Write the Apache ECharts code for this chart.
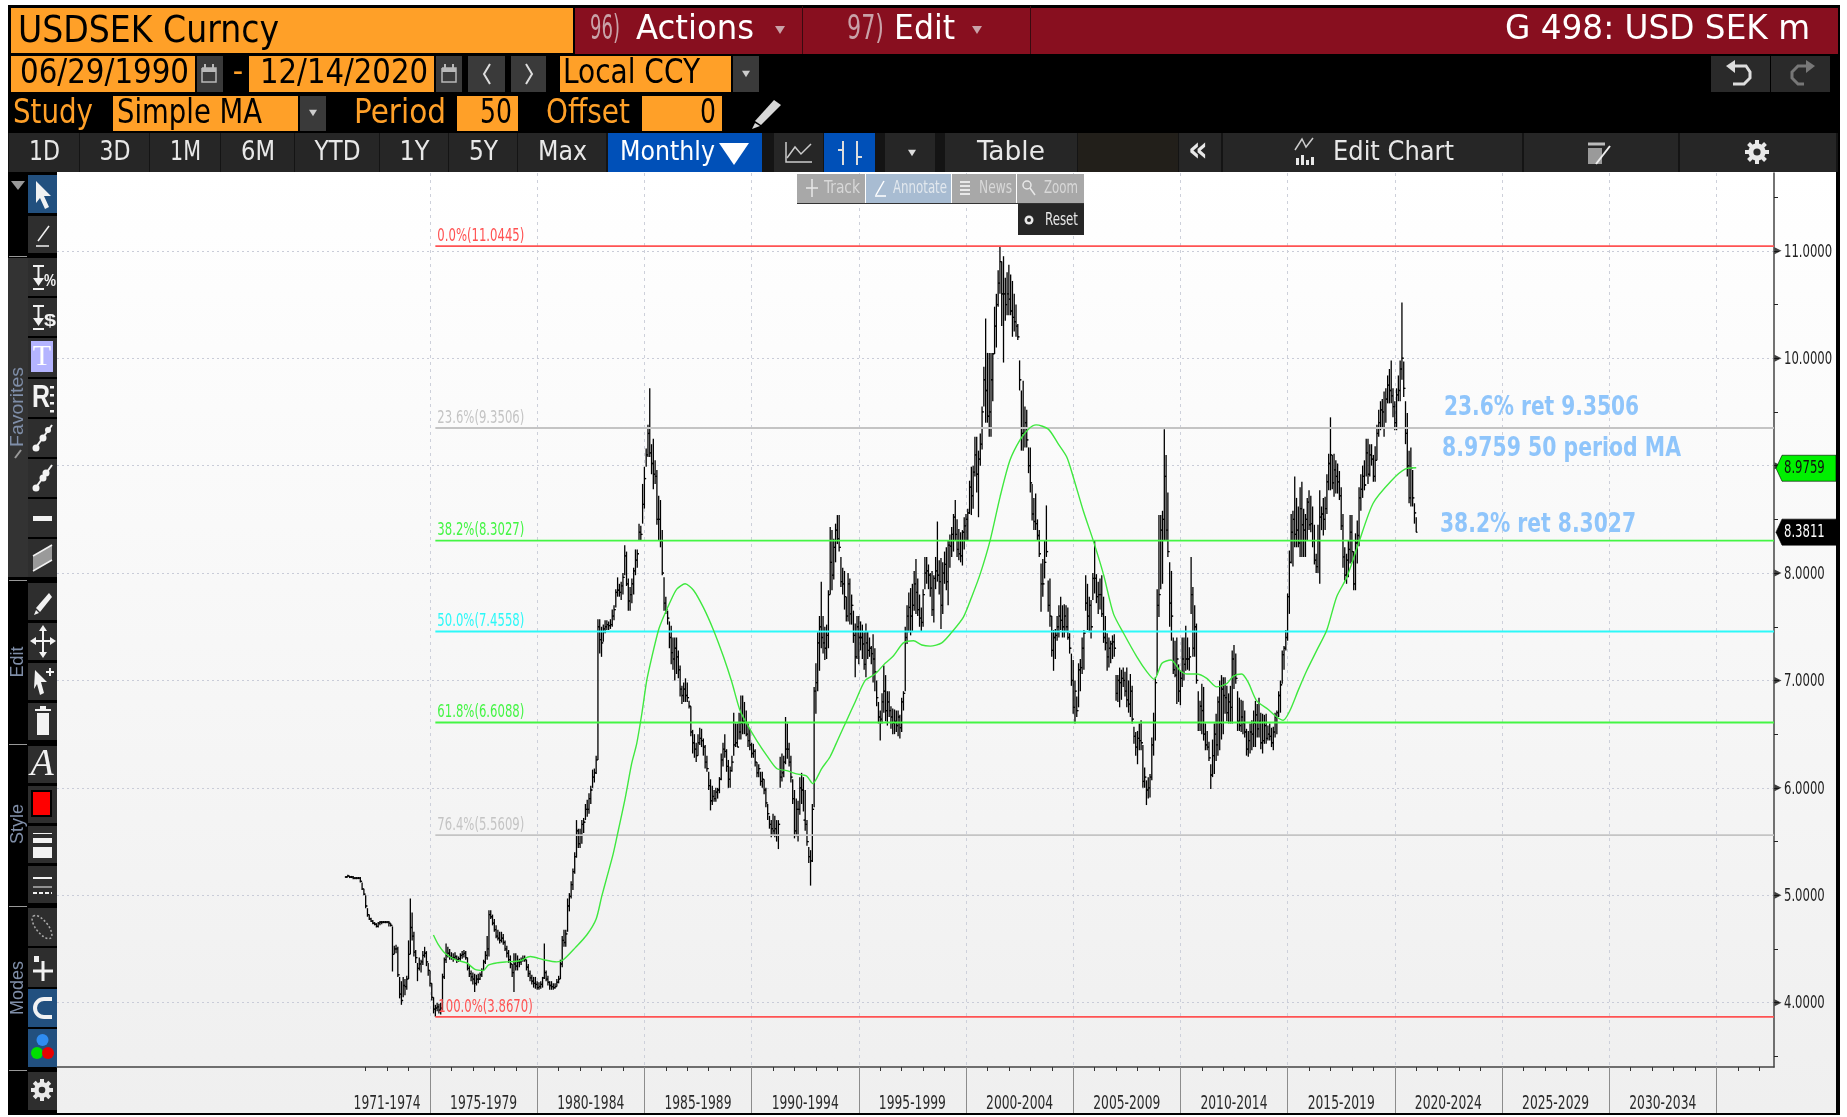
<!DOCTYPE html>
<html>
<head>
<meta charset="utf-8">
<title>USDSEK Curncy</title>
<style>html,body{margin:0;padding:0;background:#fff}#chart{width:1847px;height:1117px}</style>
<script src="https://cdn.jsdelivr.net/npm/echarts@6/dist/echarts.min.js"></script>
</head>
<body>
<div id="chart"></div>
<script>
// monthly bars, one row per year, Jan 1971 - Dec 2020
const firstYear = 1971;
const lows = [
  5.16,5.17,5.16,5.16,5.15,5.15,5.15,5.15,5.12,5.05,5.00,4.88,
  4.80,4.77,4.75,4.73,4.72,4.70,4.70,4.72,4.73,4.74,4.74,4.74,
  4.71,4.71,4.29,4.45,4.46,4.24,4.04,3.98,4.05,4.07,4.12,4.22,
  4.45,4.58,4.43,4.37,4.20,4.30,4.28,4.35,4.42,4.34,4.25,4.15,
  4.02,3.90,3.87,3.92,3.90,3.89,3.93,4.22,4.37,4.42,4.40,4.40,
  4.38,4.40,4.37,4.38,4.39,4.41,4.42,4.40,4.30,4.24,4.20,4.17,
  4.10,4.16,4.18,4.21,4.24,4.30,4.36,4.40,4.43,4.78,4.72,4.66,
  4.60,4.58,4.55,4.56,4.54,4.48,4.42,4.37,4.32,4.24,4.10,4.30,
  4.30,4.33,4.35,4.38,4.38,4.30,4.24,4.20,4.17,4.14,4.13,4.12,
  4.12,4.13,4.14,4.22,4.20,4.16,4.12,4.12,4.12,4.13,4.15,4.18,
  4.22,4.33,4.52,4.52,4.66,4.85,4.97,5.05,5.20,5.35,5.44,5.44,
  5.48,5.58,5.70,5.73,5.76,5.85,6.00,6.05,6.13,6.26,7.25,7.22,
  7.36,7.44,7.47,7.47,7.48,7.50,7.56,7.68,7.78,7.78,7.75,7.80,
  7.98,7.88,7.65,7.65,7.72,7.80,7.98,8.05,8.30,8.30,8.46,8.60,
  8.99,9.08,9.08,8.92,8.78,8.83,8.45,8.30,8.24,7.98,7.65,7.62,
  7.52,7.30,7.15,7.10,7.00,7.06,7.02,6.85,6.78,6.80,6.80,6.80,
  6.74,6.48,6.32,6.28,6.24,6.30,6.40,6.38,6.30,6.18,6.15,5.98,
  5.79,5.84,5.87,5.87,5.90,5.95,6.07,6.20,6.28,6.15,6.00,6.00,
  6.15,6.30,6.38,6.38,6.45,6.45,6.50,6.50,6.48,6.38,6.35,6.28,
  6.28,6.20,6.10,6.10,6.02,6.00,5.94,5.82,5.70,5.62,5.54,5.56,
  5.54,5.50,5.43,6.00,6.06,6.10,6.22,6.27,6.20,6.05,5.85,5.53,
  5.55,5.50,5.75,5.85,5.78,5.60,5.46,5.30,5.09,5.31,5.82,6.69,
  6.90,7.09,7.30,7.25,7.19,7.20,7.30,7.80,7.84,7.94,8.10,8.27,
  8.20,7.87,7.80,7.66,7.55,7.55,7.52,7.52,7.35,7.03,7.20,7.15,
  7.28,7.20,7.10,7.03,7.20,7.22,7.15,6.98,6.90,6.76,6.60,6.44,
  6.60,6.70,6.62,6.58,6.66,6.55,6.50,6.50,6.52,6.48,6.46,6.52,
  6.72,6.90,7.34,7.45,7.42,7.45,7.65,7.62,7.60,7.50,7.46,7.50,
  7.85,7.90,7.85,7.78,7.60,7.54,7.85,7.92,7.80,7.48,7.62,7.90,
  7.84,7.70,8.05,8.15,8.20,8.30,8.15,8.12,8.10,8.07,8.22,8.30,
  8.30,8.55,8.54,8.60,8.90,8.75,8.52,9.00,9.15,9.55,9.40,9.40,
  9.27,9.27,9.60,10.04,10.10,10.48,10.60,10.30,9.96,10.35,10.40,10.40,
  10.40,10.20,10.25,10.20,10.17,9.70,9.14,9.14,9.17,9.17,8.93,8.75,
  8.49,8.40,8.40,8.30,8.15,7.64,7.78,7.95,8.15,7.64,7.50,7.22,
  7.09,7.20,7.37,7.40,7.47,7.40,7.40,7.45,7.38,7.25,6.95,6.69,
  6.60,6.66,6.75,6.90,7.06,7.10,7.65,7.47,7.45,7.39,7.75,7.81,
  7.72,7.62,7.66,7.59,7.35,7.28,7.09,7.12,7.16,7.20,7.22,6.81,
  6.80,6.75,6.82,6.94,6.85,6.75,6.70,6.66,6.60,6.41,6.30,6.22,
  6.35,6.35,6.00,6.00,5.84,5.90,5.91,6.07,6.30,6.44,7.05,7.59,
  7.85,7.90,8.30,8.30,8.15,7.50,7.37,7.06,7.03,6.78,6.80,6.77,
  6.94,7.00,7.09,7.10,7.09,7.62,7.22,7.22,6.97,6.53,6.53,6.50,
  6.44,6.35,6.35,6.25,5.99,6.10,6.13,6.25,6.30,6.35,6.45,6.50,
  6.69,6.62,6.60,6.60,6.60,6.92,6.97,6.53,6.53,6.52,6.50,6.47,
  6.30,6.29,6.32,6.35,6.38,6.38,6.47,6.47,6.36,6.32,6.41,6.41,
  6.44,6.44,6.38,6.35,6.47,6.50,6.66,6.70,6.97,7.10,7.28,7.37,
  7.62,8.09,8.06,8.24,8.24,8.24,8.15,8.15,8.15,8.15,8.30,8.40,
  8.38,8.24,8.08,8.00,8.00,7.90,8.40,8.35,8.40,8.55,8.77,8.77,
  8.78,8.71,8.74,8.74,8.68,8.40,8.05,7.93,7.90,7.96,8.09,8.10,
  7.84,7.84,8.09,8.25,8.58,8.70,8.77,8.90,8.83,8.90,9.00,8.85,
  8.85,9.05,9.27,9.33,9.35,9.27,9.40,9.58,9.58,9.58,9.45,9.33,
  9.33,9.60,9.60,9.80,9.64,9.20,8.90,8.65,8.62,8.62,8.46,8.38
];
const highs = [
  5.18,5.19,5.18,5.18,5.18,5.17,5.17,5.17,5.17,5.12,5.06,5.00,
  4.88,4.82,4.79,4.77,4.75,4.74,4.75,4.76,4.76,4.76,4.76,4.76,
  4.76,4.74,4.71,4.53,4.54,4.52,4.24,4.20,4.24,4.22,4.25,4.58,
  4.97,4.84,4.66,4.49,4.37,4.42,4.40,4.48,4.52,4.48,4.37,4.30,
  4.18,4.05,3.98,4.00,3.99,4.00,4.27,4.42,4.55,4.52,4.50,4.47,
  4.46,4.47,4.44,4.43,4.46,4.48,4.49,4.48,4.42,4.35,4.30,4.28,
  4.27,4.26,4.27,4.28,4.32,4.40,4.48,4.62,4.86,4.86,4.82,4.78,
  4.72,4.68,4.66,4.66,4.64,4.58,4.53,4.49,4.44,4.36,4.46,4.46,
  4.44,4.41,4.42,4.44,4.44,4.40,4.36,4.30,4.26,4.24,4.24,4.20,
  4.19,4.20,4.24,4.55,4.30,4.25,4.20,4.20,4.18,4.18,4.22,4.25,
  4.40,4.62,4.68,4.68,4.97,5.02,5.13,5.25,5.40,5.70,5.62,5.62,
  5.70,5.72,5.85,5.89,5.95,6.02,6.17,6.18,6.30,7.57,7.57,7.50,
  7.52,7.56,7.56,7.55,7.57,7.66,7.70,7.85,7.96,7.90,7.92,8.00,
  8.26,8.20,7.95,7.87,7.95,8.05,8.22,8.22,8.46,8.44,8.83,8.99,
  9.16,9.38,9.72,9.20,9.25,9.05,8.96,8.72,8.68,8.40,7.96,7.78,
  7.65,7.55,7.51,7.40,7.40,7.40,7.28,7.14,6.95,6.98,7.02,6.98,
  6.81,6.76,6.54,6.50,6.42,6.50,6.56,6.55,6.46,6.40,6.30,6.15,
  6.08,6.02,5.98,6.00,6.00,6.10,6.32,6.42,6.50,6.36,6.26,6.20,
  6.30,6.70,6.60,6.60,6.70,6.86,6.86,6.80,6.72,6.60,6.55,6.42,
  6.41,6.36,6.24,6.22,6.15,6.15,6.08,6.00,5.85,5.74,5.70,5.76,
  5.74,5.70,5.70,6.29,6.32,6.30,6.66,6.60,6.42,6.30,6.08,5.98,
  5.90,5.88,6.10,6.14,6.10,5.98,5.70,5.45,5.42,5.85,6.94,7.16,
  7.45,7.60,7.92,7.60,7.50,7.52,7.84,8.43,8.40,8.32,8.46,8.54,
  8.54,8.15,8.05,8.02,7.78,8.00,7.95,7.80,7.65,7.53,7.60,7.60,
  7.55,7.52,7.45,7.53,7.46,7.40,7.32,7.43,7.30,7.00,6.80,6.72,
  6.88,7.14,7.05,6.90,6.90,6.76,6.74,6.73,6.72,6.72,6.68,6.84,
  6.90,7.50,7.70,7.82,7.86,7.90,8.02,8.13,7.95,7.80,7.68,7.85,
  8.15,8.15,8.08,8.00,8.02,7.98,8.15,8.48,8.12,8.14,8.10,8.20,
  8.24,8.30,8.36,8.43,8.55,8.68,8.50,8.41,8.38,8.40,8.52,8.55,
  8.60,8.86,8.99,9.00,9.27,9.27,9.14,9.30,9.55,9.92,10.37,10.05,
  10.05,10.05,10.05,10.48,10.60,10.82,11.04,10.90,10.95,10.75,10.80,10.87,
  10.78,10.72,10.60,10.50,10.32,9.98,9.70,9.79,9.55,9.52,9.17,9.17,
  8.83,8.70,8.74,8.50,8.40,8.09,8.13,8.30,8.63,7.93,7.95,7.60,
  7.47,7.48,7.60,7.70,7.78,7.70,7.71,7.70,7.68,7.44,7.25,7.19,
  7.00,6.85,7.16,7.20,7.40,7.47,7.98,7.90,7.78,7.75,8.00,8.30,
  7.99,7.92,7.95,7.98,7.78,7.60,7.44,7.40,7.37,7.42,7.43,7.05,
  7.05,7.12,7.10,7.12,7.08,7.12,7.00,7.06,6.95,6.57,6.52,6.53,
  6.60,6.63,6.40,6.19,6.07,6.10,6.13,6.47,6.70,7.03,7.85,8.54,
  8.54,8.58,9.34,9.10,8.75,8.10,8.02,7.40,7.37,7.40,7.15,7.09,
  7.40,7.40,7.51,7.40,7.31,8.15,7.87,7.70,7.53,6.90,6.81,6.97,
  6.94,6.60,6.53,6.43,6.22,6.45,6.60,6.69,6.85,7.00,7.05,7.03,
  7.03,6.95,6.88,6.95,7.28,7.33,7.25,6.90,6.84,6.82,6.81,6.72,
  6.55,6.53,6.60,6.63,6.72,6.81,6.78,6.84,6.70,6.69,6.68,6.69,
  6.58,6.60,6.56,6.57,6.70,6.72,6.90,7.00,7.28,7.32,7.47,7.81,
  8.21,8.55,8.58,8.90,8.70,8.62,8.80,8.85,8.60,8.55,8.70,8.77,
  8.72,8.62,8.45,8.18,8.45,8.77,8.62,8.70,8.71,8.92,9.11,9.45,
  9.10,9.11,9.05,9.02,8.95,8.80,8.55,8.24,8.18,8.30,8.54,8.54,
  8.20,8.37,8.49,8.80,8.92,9.00,9.05,9.25,9.25,9.20,9.20,9.10,
  9.18,9.38,9.52,9.60,9.62,9.69,9.72,9.84,9.90,9.98,9.72,9.60,
  9.72,9.84,9.98,10.52,9.97,9.60,9.49,9.14,9.17,8.96,8.65,8.52
];
const closes = [
  5.17,5.18,5.17,5.17,5.16,5.16,5.16,5.16,5.13,5.06,5.01,4.90,
  4.82,4.78,4.76,4.74,4.73,4.71,4.74,4.75,4.75,4.75,4.75,4.75,
  4.74,4.72,4.45,4.50,4.50,4.26,4.08,4.02,4.16,4.15,4.22,4.45,
  4.70,4.62,4.47,4.42,4.32,4.36,4.38,4.44,4.46,4.38,4.30,4.18,
  4.05,3.94,3.95,3.96,3.93,3.95,4.24,4.40,4.44,4.46,4.43,4.42,
  4.42,4.43,4.40,4.41,4.44,4.45,4.46,4.42,4.32,4.27,4.24,4.22,
  4.18,4.22,4.22,4.26,4.30,4.38,4.44,4.50,4.82,4.80,4.74,4.68,
  4.62,4.60,4.58,4.60,4.56,4.50,4.46,4.40,4.36,4.28,4.36,4.34,
  4.38,4.38,4.40,4.41,4.40,4.33,4.27,4.23,4.20,4.18,4.17,4.14,
  4.15,4.17,4.23,4.28,4.22,4.19,4.16,4.15,4.14,4.15,4.19,4.22,
  4.36,4.58,4.56,4.64,4.90,4.99,5.10,5.22,5.36,5.60,5.48,5.56,
  5.66,5.68,5.80,5.80,5.90,5.98,6.10,6.14,6.26,7.50,7.38,7.35,
  7.48,7.50,7.52,7.51,7.52,7.60,7.66,7.82,7.84,7.82,7.88,7.96,
  8.16,7.90,7.74,7.80,7.90,8.02,8.12,8.18,8.38,8.36,8.64,8.88,
  9.10,9.30,9.12,9.02,8.92,8.90,8.50,8.50,8.30,8.00,7.72,7.66,
  7.58,7.40,7.26,7.20,7.30,7.22,7.10,6.92,6.86,6.92,6.86,6.84,
  6.76,6.52,6.42,6.36,6.30,6.42,6.46,6.44,6.38,6.24,6.18,6.02,
  5.88,5.92,5.90,5.96,5.98,6.08,6.26,6.36,6.34,6.20,6.08,6.16,
  6.24,6.40,6.42,6.38,6.52,6.60,6.62,6.62,6.50,6.44,6.40,6.32,
  6.34,6.24,6.14,6.18,6.06,6.08,5.98,5.86,5.76,5.66,5.62,5.60,
  5.62,5.56,5.66,6.10,6.14,6.24,6.36,6.36,6.24,6.10,5.90,5.60,
  5.80,5.80,6.00,5.98,5.70,5.66,5.50,5.36,5.32,5.80,6.90,6.98,
  7.35,7.50,7.40,7.35,7.30,7.42,7.80,8.10,7.98,8.24,8.40,8.32,
  8.24,7.92,7.90,7.78,7.60,7.90,7.62,7.70,7.42,7.22,7.50,7.40,
  7.40,7.34,7.15,7.35,7.28,7.30,7.25,7.20,7.08,6.84,6.66,6.64,
  6.80,6.90,6.72,6.80,6.72,6.66,6.60,6.62,6.58,6.66,6.56,6.80,
  6.88,7.40,7.60,7.68,7.60,7.70,7.90,7.82,7.66,7.58,7.54,7.80,
  8.00,8.02,7.98,7.86,7.66,7.95,8.02,7.98,7.92,7.70,8.00,8.08,
  7.92,8.26,8.25,8.36,8.52,8.36,8.22,8.18,8.16,8.38,8.44,8.50,
  8.56,8.80,8.72,8.94,9.10,8.92,9.06,9.20,9.50,9.80,9.70,9.46,
  9.50,9.80,10.04,10.30,10.50,10.70,10.90,10.60,10.60,10.50,10.60,10.55,
  10.44,10.38,10.34,10.30,10.20,9.80,9.30,9.30,9.40,9.24,9.00,8.84,
  8.55,8.48,8.46,8.35,8.18,7.90,7.90,8.10,8.20,7.70,7.60,7.28,
  7.40,7.42,7.50,7.60,7.56,7.50,7.60,7.50,7.40,7.30,7.00,6.75,
  6.90,6.72,7.10,7.12,7.30,7.44,7.72,7.60,7.70,7.50,7.95,7.95,
  7.78,7.80,7.80,7.62,7.40,7.35,7.22,7.30,7.34,7.36,7.30,6.88,
  7.00,6.98,7.02,7.00,6.90,6.82,6.78,6.90,6.64,6.48,6.38,6.46,
  6.44,6.42,6.06,6.10,5.98,6.00,6.10,6.40,6.62,6.98,7.70,7.80,
  8.40,8.50,8.90,8.40,8.20,7.72,7.60,7.10,7.05,7.20,6.90,7.02,
  7.20,7.15,7.20,7.20,7.22,7.80,7.30,7.50,7.00,6.60,6.76,6.72,
  6.50,6.40,6.38,6.28,6.12,6.30,6.50,6.40,6.80,6.60,6.92,6.86,
  6.84,6.70,6.80,6.75,7.20,7.05,7.02,6.62,6.58,6.66,6.60,6.52,
  6.36,6.44,6.52,6.50,6.60,6.68,6.55,6.62,6.42,6.44,6.58,6.46,
  6.50,6.48,6.42,6.52,6.66,6.70,6.86,6.96,7.24,7.30,7.40,7.78,
  8.10,8.38,8.50,8.36,8.40,8.28,8.60,8.45,8.40,8.50,8.66,8.45,
  8.46,8.30,8.12,8.06,8.30,8.52,8.55,8.50,8.60,8.85,9.02,9.10,
  8.84,8.96,8.90,8.85,8.72,8.44,8.15,7.98,8.12,8.22,8.38,8.20,
  7.90,8.28,8.35,8.70,8.78,8.90,8.82,9.12,8.92,9.10,9.06,8.90,
  9.05,9.30,9.40,9.52,9.50,9.35,9.62,9.75,9.70,9.65,9.55,9.40,
  9.66,9.70,9.90,10.00,9.72,9.30,9.00,8.70,8.98,8.70,8.56,8.38
];

// 50 period moving average
const maYears = [1975.16,1975.39,1975.7,1976.17,1976.71,1977.1,1977.49,1977.72,1978.11,1978.58,1979.2,1979.67,1980.29,1980.91,1981.22,1981.77,1982.31,1982.75,1983.01,1983.24,1983.55,1983.79,1984.1,1984.41,1984.64,1984.88,1985.11,1985.35,1985.66,1985.89,1986.2,1986.51,1986.9,1987.29,1987.75,1988.22,1988.69,1989.07,1989.46,1989.77,1990.24,1990.71,1991.17,1991.64,1992.1,1992.57,1992.85,1993.27,1993.66,1994.05,1994.44,1994.83,1995.3,1995.76,1996.23,1996.62,1997.08,1997.55,1997.94,1998.33,1998.87,1999.34,1999.88,2000.27,2000.66,2001.12,2001.59,2002.05,2002.52,2002.91,2003.27,2003.84,2004.31,2004.7,2005.01,2005.47,2005.94,2006.41,2006.88,2007.35,2007.97,2008.44,2008.78,2009.14,2009.56,2009.99,2010.3,2010.76,2011.23,2011.69,2012.16,2012.47,2012.86,2013.17,2013.56,2014.1,2014.49,2014.8,2015.11,2015.5,2015.89,2016.36,2016.83,2017.29,2017.76,2018.3,2018.99,2019.84,2020.5,2021.0];
const maValues = [4.63,4.54,4.46,4.40,4.37,4.31,4.30,4.35,4.37,4.38,4.39,4.43,4.40,4.38,4.40,4.51,4.63,4.78,4.99,5.16,5.39,5.61,5.90,6.23,6.41,6.69,7.00,7.22,7.47,7.59,7.73,7.85,7.90,7.84,7.68,7.47,7.22,6.99,6.72,6.60,6.44,6.30,6.18,6.16,6.13,6.11,6.04,6.18,6.29,6.46,6.63,6.80,7.00,7.06,7.16,7.23,7.35,7.37,7.33,7.32,7.35,7.45,7.59,7.78,7.99,8.30,8.71,9.05,9.24,9.34,9.38,9.34,9.20,9.08,8.89,8.58,8.30,7.99,7.62,7.44,7.22,7.08,7.01,7.16,7.19,7.09,7.06,7.06,7.02,6.94,6.97,7.04,7.06,6.98,6.81,6.73,6.66,6.63,6.72,6.91,7.09,7.28,7.47,7.78,7.96,8.27,8.65,8.86,8.97,8.98];

// retracement levels
const fibLevels = [11.0445,9.3506,8.3027,7.4558,6.6088,5.5609,3.8670];
const fibPercents = ['0.0%','23.6%','38.2%','50.0%','61.8%','76.4%','100.0%'];
const fibColors = ['#ff5252','#c4c4c4','#44f544','#2cf8f8','#44f544','#c4c4c4','#ff5252'];

// axis ticks and labels
const priceTicks = [4,5,6,7,8,9,10,11];
const priceMinorTicks = [3.5,4.5,5.5,6.5,7.5,8.5,9.5,10.5,11.5];
const periodEdges = [1975,1980,1985,1990,1995,2000,2005,2010,2015,2020,2025,2030,2035];
const yearTicks = [1972,1973,1974,1976,1977,1978,1979,1981,1982,1983,1984,1986,1987,1988,1989,1991,1992,1993,1994,1996,1997,1998,1999,2001,2002,2003,2004,2006,2007,2008,2009,2011,2012,2013,2014,2016,2017,2018,2019,2021,2022,2023,2024,2026,2027,2028,2029,2031,2032,2033,2034,2036,2037];
const periodCenters = [1973,1977.5,1982.5,1987.5,1992.5,1997.5,2002.5,2007.5,2012.5,2017.5,2022.5,2027.5,2032.5];
const periodLabels = ['1971-1974','1975-1979','1980-1984','1985-1989','1990-1994','1995-1999','2000-2004','2005-2009','2010-2014','2015-2019','2020-2024','2025-2029','2030-2034'];

// last value tags on the price axis
const tagValues = [8.9759,8.3811];
const tagFills = ['#00f000','#000000'];
const tagTexts = ['#101010','#ffffff'];

const narrow = '"DejaVu Sans Condensed","DejaVu Sans",sans-serif';
const LABEL_SX = 0.72;
const XMIN = 1957.603, XMAX = 2037.687, YMIN = 3.401, YMAX = 11.725;

const barRows = lows.map((lo, i) => [
  firstYear + (i + 1) / 12, lo, highs[i], i ? closes[i - 1] : closes[0], closes[i]
]);

// ---- terminal chrome, all graphic elements ----
const gfx = [];
const meas = document.createElement('canvas').getContext('2d');
const ORANGE = '#ffa028', MAROON = '#880f1f', BTN = '#262626', TOOL = '#2e2e2e';

function box(x0, y0, x1, y1, fill, z) {
  gfx.push({ type: 'rect', silent: true, z: z || 1, shape: { x: x0, y: y0, width: x1 - x0, height: y1 - y0 }, style: { fill } });
}
function txt(x, y, s, size, fill, o) {
  o = o || {};
  const family = o.font || narrow;
  const weight = o.bold ? 'bold' : 'normal';
  let sx = 1;
  if (o.w) {
    meas.font = weight + ' ' + size + 'px ' + family;
    sx = o.w / meas.measureText(s).width;
  }
  gfx.push({
    type: 'text', silent: true, z: o.z || 2, x, y, scaleX: sx, rotation: o.rot || 0,
    style: { text: s, fontSize: size, fontFamily: family, fontWeight: weight, fontStyle: o.italic ? 'italic' : 'normal', fill, textAlign: o.align || 'left', textVerticalAlign: 'middle' }
  });
}
function pl(points, stroke, lw, z) {
  gfx.push({ type: 'polyline', silent: true, z: z || 2, shape: { points }, style: { stroke, lineWidth: lw || 1.5, fill: null } });
}
function pg(points, fill, z) {
  gfx.push({ type: 'polygon', silent: true, z: z || 2, shape: { points }, style: { fill } });
}
function dot(x, y, r, fill, z) {
  gfx.push({ type: 'circle', silent: true, z: z || 2, shape: { cx: x, cy: y, r }, style: { fill } });
}
function gear(cx, cy, r, fill) {
  for (let a = 0; a < 8; a++) {
    const c = Math.cos(a * Math.PI / 4), s = Math.sin(a * Math.PI / 4);
    pl([[cx + c * r * 0.5, cy + s * r * 0.5], [cx + c * r, cy + s * r]], fill, 4);
  }
  dot(cx, cy, r * 0.72, fill);
  dot(cx, cy, r * 0.3, '#2a2a2a');
}
function downTri(x, y, s, fill) { pg([[x - s, y - s * 0.8], [x + s, y - s * 0.8], [x, y + s * 0.8]], fill); }
function calendar(x, y) {
  pl([[x - 7, y - 6], [x + 7, y - 6], [x + 7, y + 8], [x - 7, y + 8], [x - 7, y - 6]], '#b8b8b8', 1.5);
  box(x - 7, y - 6, x + 7, y - 2, '#b8b8b8', 2);
  box(x - 5, y - 10, x - 3, y - 5, '#b8b8b8', 2);
  box(x + 3, y - 10, x + 5, y - 5, '#b8b8b8', 2);
}

// page frame and chart surface
box(8, 5, 1840, 1115, '#000000', -3);
gfx.push({
  type: 'rect', silent: true, z: -2, shape: { x: 57, y: 172, width: 1779, height: 941 },
  style: { fill: { type: 'linear', x: 0, y: 0, x2: 0, y2: 1, colorStops: [{ offset: 0, color: '#ffffff' }, { offset: 1, color: '#efefef' }] } }
});

// row 1
box(11, 8, 573, 53, ORANGE);
box(575, 8, 1838, 54, MAROON);
box(802, 6, 803, 54, '#3a0a10', 2);
box(1030, 6, 1031, 54, '#3a0a10', 2);
txt(18, 32, 'USDSEK Curncy', 37, '#000', { w: 261 });
txt(590, 30, '96)', 34, '#c9a2a8', { w: 30 });
txt(636, 30, 'Actions', 34, '#fff', { w: 118 });
downTri(780, 30, 5, '#c9a2a8');
txt(847, 30, '97)', 34, '#c9a2a8', { w: 37 });
txt(894, 30, 'Edit', 34, '#fff', { w: 61 });
downTri(977, 30, 5, '#c9a2a8');
txt(1505, 30, 'G 498: USD SEK m', 33, '#fff', { w: 305 });

// row 2
box(11, 56, 195, 92, ORANGE);
box(197, 56, 223, 92, '#3a3a3a');
calendar(209, 74);
txt(238, 74, '-', 32, ORANGE, { align: 'center' });
box(249, 56, 434, 92, ORANGE);
box(436, 56, 462, 92, '#3a3a3a');
calendar(449, 74);
box(468, 56, 505, 92, '#3a3a3a');
pl([[490, 64], [484, 74], [490, 84]], '#ddd', 2);
box(511, 56, 546, 92, '#3a3a3a');
pl([[526, 64], [532, 74], [526, 84]], '#ddd', 2);
box(560, 56, 731, 92, ORANGE);
box(733, 56, 759, 92, '#3a3a3a');
downTri(746, 74, 4, '#ccc');
txt(20, 74, '06/29/1990', 34, '#000', { w: 169 });
txt(260, 74, '12/14/2020', 34, '#000', { w: 168 });
txt(563, 74, 'Local CCY', 34, '#000', { w: 137 });
box(1711, 56, 1770, 92, '#2a2a2a');
box(1771, 56, 1830, 92, '#2a2a2a');
pl([[1735, 66], [1746, 66], [1750, 72], [1750, 78], [1744, 84], [1733, 84]], '#ddd', 3);
pg([[1735, 60], [1735, 73], [1726, 66]], '#ddd');
pl([[1806, 66], [1798, 66], [1792, 72], [1792, 78], [1798, 84], [1804, 84]], '#777', 3);
pg([[1806, 60], [1806, 73], [1815, 66]], '#777');

// row 3
txt(13, 114, 'Study', 34, ORANGE, { w: 80 });
box(113, 96, 298, 131, ORANGE);
txt(117, 114, 'Simple MA', 34, '#000', { w: 145 });
box(300, 96, 326, 131, '#3a3a3a');
downTri(313, 113, 4, '#ccc');
txt(354, 114, 'Period', 34, ORANGE, { w: 92 });
box(457, 96, 518, 131, ORANGE);
txt(480, 114, '50', 34, '#000', { w: 32 });
txt(546, 114, 'Offset', 34, ORANGE, { w: 84 });
box(642, 96, 722, 131, ORANGE);
txt(700, 114, '0', 34, '#000', { w: 16 });
pg([[774, 100], [781, 105], [761, 125], [755, 121]], '#d8d8d8');
pg([[755, 123], [760, 126], [752, 129]], '#d8d8d8');

// row 4
const rangeEdges = [9, 80, 150, 221, 295, 380, 449, 518, 607];
const rangeNames = ['1D', '3D', '1M', '6M', 'YTD', '1Y', '5Y', 'Max'];
const rangeWidths = [31, 31, 31, 34, 46, 30, 29, 49];
box(8, 133, 1838, 172, '#141414');
rangeNames.forEach((name, i) => {
  box(rangeEdges[i], 133, rangeEdges[i + 1] - 1, 172, BTN);
  txt((rangeEdges[i] + rangeEdges[i + 1]) / 2 - rangeWidths[i] / 2, 153, name, 27, '#e8e8e8', { w: rangeWidths[i] });
});
box(608, 133, 762, 172, '#0050b8');
txt(620, 153, 'Monthly', 27, '#fff', { w: 95 });
pg([[719, 143], [749, 143], [734, 165]], '#fff');
box(774, 133, 823, 172, BTN);
pl([[786, 142], [786, 162], [812, 162]], '#ccc', 1.5);
pl([[787, 158], [795, 147], [801, 154], [811, 144]], '#ccc', 1.5);
box(824, 133, 875, 172, '#0050b8');
pl([[843, 141], [843, 165]], '#ddd', 2);
pl([[857, 141], [857, 165]], '#ddd', 2);
pl([[838, 150], [843, 150]], '#ddd', 2);
pl([[857, 157], [862, 157]], '#ddd', 2);
box(885, 133, 935, 172, BTN);
downTri(912, 153, 4, '#ddd');
box(945, 133, 1077, 172, BTN);
txt(977, 153, 'Table', 27, '#e8e8e8', { w: 68 });
box(1078, 133, 1178, 172, '#221f1a');
box(1179, 133, 1221, 172, BTN);
txt(1188, 152, '\u00ab', 36, '#e8e8e8', { w: 20, bold: true });
box(1223, 133, 1522, 172, BTN);
pl([[1295, 150], [1302, 139], [1306, 147], [1313, 138]], '#ccc', 1.5);
[[1296, 158], [1301, 155], [1306, 160], [1311, 157]].forEach(p => box(p[0], p[1], p[0] + 3, 165, '#e8e8e8', 2));
txt(1333, 153, 'Edit Chart', 27, '#e8e8e8', { w: 121 });
box(1524, 133, 1678, 172, BTN);
pl([[1588, 144], [1605, 144]], '#bbb', 3);
box(1588, 148, 1602, 164, '#9a9a9a', 2);
pl([[1596, 164], [1610, 146]], '#eee', 2);
box(1680, 133, 1836, 172, BTN);
gear(1757, 152, 12, '#e8e8e8');

// left tools
box(8, 258, 28, 577, '#333333');
[256, 580, 744, 906, 1070].forEach(y => box(9, y, 27, y + 1, '#999', 2));
const sideFont = '"Liberation Sans"';
txt(18, 407, 'Favorites', 18, '#7f8ea8', { rot: Math.PI / 2, align: 'center', w: 80, font: sideFont });
pl([[15, 458], [21, 450]], '#999', 2);
txt(18, 662, 'Edit', 18, '#7f8ea8', { rot: Math.PI / 2, align: 'center', font: sideFont });
txt(18, 824, 'Style', 18, '#7f8ea8', { rot: Math.PI / 2, align: 'center', font: sideFont });
txt(18, 988, 'Modes', 18, '#7f8ea8', { rot: Math.PI / 2, align: 'center', font: sideFont });
pg([[11, 181], [25, 181], [18, 190]], '#999');
const toolSpans = [[175, 213], [216, 253], [258, 296], [298, 336], [338, 377], [379, 417], [419, 457], [459, 497], [499, 537], [539, 577], [583, 620], [623, 660], [663, 700], [703, 740], [746, 783], [786, 823], [826, 863], [866, 903], [908, 946], [948, 987], [989, 1027], [1029, 1067], [1072, 1110]];
const toolBlue = { 0: 1, 20: 1, 21: 1 };
toolSpans.forEach((s, i) => box(28, s[0], 57, s[1], toolBlue[i] ? '#22507f' : TOOL));
const W = '#f2f2f2';
pg([[36, 181], [51, 196], [44, 196], [49, 207], [45, 209], [40, 198], [36, 203]], W);
pl([[38, 241], [49, 226]], W, 1.5);
pl([[36, 246], [49, 246]], W, 1.5);
[[258, '%'], [298, '$']].forEach(r => {
  const y = r[0];
  pl([[33, y + 8], [44, y + 8]], W, 2);
  pl([[38.5, y + 8], [38.5, y + 22]], W, 2);
  pg([[33, y + 20], [44, y + 20], [38.5, y + 28]], W);
  pl([[33, y + 31], [44, y + 31]], W, 2);
  txt(44, y + 23, r[1], 17, W, { bold: true, w: 12, font: sideFont });
});
box(31, 341, 53, 372, '#b4b4ff', 2);
txt(42, 357, 'T', 30, '#fff', { align: 'center', font: '"Liberation Serif"' });
txt(32, 398, 'R', 32, W, { bold: true, w: 18, font: sideFont });
[386, 394, 402, 410].forEach(y => box(50, y, 54, y + 2.5, W, 2));
[419, 459].forEach((y, i) => {
  pl([[34, y + 31], [52, y + 6]], W, 2);
  dot(36, y + 29, 3.5, W);
  dot(43, y + 19, 3.5, W);
  if (i) dot(46, y + 14, 3.5, W);
  else dot(48, y + 11, 3, W);
});
box(33, 516, 52, 521, W, 2);
pg([[33, 556], [52, 545], [52, 560], [33, 571]], '#9a9a9a');
pl([[33, 556], [52, 545]], W, 1.5);
pl([[33, 571], [52, 560]], W, 1.5);
pg([[49, 593], [52, 597], [40, 612], [36, 608]], W);
pg([[36, 610], [39, 613], [34, 615]], W);
pl([[43, 628], [43, 655]], W, 2);
pl([[33, 641], [53, 641]], W, 2);
pg([[43, 625], [39, 631], [47, 631]], W);
pg([[43, 658], [39, 652], [47, 652]], W);
pg([[30, 641], [36, 637], [36, 645]], W);
pg([[56, 641], [50, 637], [50, 645]], W);
pg([[35, 670], [47, 682], [41, 682], [44, 693], [40, 695], [37, 684], [34, 689]], W);
pl([[46, 672], [54, 672]], W, 2);
pl([[50, 668], [50, 676]], W, 2);
box(37, 713, 49, 735, W, 2);
box(35, 709, 51, 711, W, 2);
box(40, 706, 46, 709, W, 2);
txt(42, 765, 'A', 38, W, { align: 'center', italic: true, font: '"Liberation Serif"' });
box(31, 790, 52, 817, '#000', 2);
box(33, 792, 50, 815, '#ff0000', 2);
box(33, 833, 52, 834, W, 2);
box(33, 838, 52, 843, W, 2);
box(33, 847, 52, 858, W, 2);
box(33, 877, 52, 879, W, 2);
pl([[33, 887], [52, 887]], W, 1);
gfx.push({ type: 'polyline', silent: true, z: 2, shape: { points: [[33, 893], [52, 893]] }, style: { stroke: W, lineWidth: 2, lineDash: [4, 2], fill: null } });
gfx.push({ type: 'ellipse', silent: true, z: 2, rotation: -0.9, x: 42, y: 927, shape: { cx: 0, cy: 0, rx: 14, ry: 6 }, style: { stroke: '#aaa', lineWidth: 1.5, lineDash: [2, 2], fill: null } });
box(34, 956, 39, 962, W, 2);
pl([[33, 971], [53, 971]], W, 3);
pl([[43, 961], [43, 981]], W, 3);
gfx.push({ type: 'arc', silent: true, z: 2, shape: { cx: 44, cy: 1008, r: 9, startAngle: Math.PI / 2, endAngle: Math.PI * 1.5, clockwise: true }, style: { stroke: W, lineWidth: 4, fill: null } });
pl([[44, 999], [52, 999]], W, 4);
pl([[44, 1017], [52, 1017]], W, 4);
dot(42.5, 1040, 6, '#2f8cf0');
dot(37, 1053, 6, '#00e000');
dot(48, 1053, 6, '#e80000');
gear(42, 1090, 11, '#e8e8e8');

// floating toolbar over the plot
const FL = 20;
box(797, 174, 865, 203, '#a8a8a8', FL);
box(866, 174, 951, 203, '#a8bcd2', FL);
box(952, 174, 1016, 203, '#a8a8a8', FL);
box(1017, 174, 1084, 203, '#a8a8a8', FL);
box(797, 203, 1084, 204, '#333', FL);
txt(824, 188, 'Track', 18, '#d8d8d8', { w: 36, z: FL + 1 });
txt(893, 188, 'Annotate', 18, '#e2e8ee', { w: 54, z: FL + 1 });
txt(979, 188, 'News', 18, '#d8d8d8', { w: 33, z: FL + 1 });
txt(1044, 188, 'Zoom', 18, '#d8d8d8', { w: 34, z: FL + 1 });
pl([[812, 179], [812, 197]], '#e8e8e8', 1.5, FL + 1);
pl([[806, 188], [818, 188]], '#e8e8e8', 1.5, FL + 1);
pl([[876, 195], [884, 181]], '#fff', 1.5, FL + 1);
pl([[875, 196], [886, 196]], '#fff', 1.5, FL + 1);
[181, 185, 189, 193].forEach(y => box(960, y, 970, y + 2, '#e8e8e8', FL + 1));
gfx.push({ type: 'circle', silent: true, z: FL + 1, shape: { cx: 1027, cy: 185, r: 4 }, style: { stroke: '#e8e8e8', lineWidth: 1.5, fill: null } });
pl([[1030, 188], [1035, 195]], '#e8e8e8', 1.5, FL + 1);
box(1018, 204, 1084, 235, '#262626', FL);
dot(1029, 220, 4.5, '#e8e8e8', FL + 1);
dot(1029, 220, 2, '#262626', FL + 1);
txt(1045, 220, 'Reset', 18, '#e8e8e8', { w: 33, z: FL + 1 });

// hand written notes on the chart
const NOTE = '#8fc5fb';
txt(1444, 408, '23.6% ret 9.3506', 27, NOTE, { bold: true, w: 195, z: FL });
txt(1442, 449, '8.9759 50 period MA', 27, NOTE, { bold: true, w: 239, z: FL });
txt(1440, 525, '38.2% ret 8.3027', 27, NOTE, { bold: true, w: 196, z: FL });

// ---- series renderers ----
function renderBar(params, api) {
  const x = api.value(0);
  const lo = api.coord([x, api.value(1)]);
  const hi = api.coord([x, api.value(2)]);
  const op = api.coord([x, api.value(3)]);
  const cl = api.coord([x, api.value(4)]);
  const style = { stroke: '#000', lineWidth: 1.3 };
  return {
    type: 'group',
    children: [
      { type: 'line', shape: { x1: hi[0], y1: hi[1], x2: lo[0], y2: lo[1] }, style },
      { type: 'line', shape: { x1: op[0] - 1.2, y1: op[1], x2: op[0], y2: op[1] }, style },
      { type: 'line', shape: { x1: cl[0], y1: cl[1], x2: cl[0] + 1.2, y2: cl[1] }, style }
    ]
  };
}

function renderFib(params, api) {
  const i = params.dataIndex;
  const v = api.value(0);
  const a = api.coord([1975.25, v]);
  const b = api.coord([XMAX, v]);
  const color = fibColors[i];
  return {
    type: 'group',
    children: [
      { type: 'line', shape: { x1: a[0], y1: a[1], x2: b[0], y2: b[1] }, style: { stroke: color, lineWidth: 1.8 } },
      {
        type: 'text', x: a[0] + (i === 6 ? 3 : 2), y: a[1] - 10, scaleX: LABEL_SX,
        style: { text: fibPercents[i] + '(' + v.toFixed(4) + ')', fill: color, fontSize: 18, fontFamily: narrow, textAlign: 'left', textVerticalAlign: 'middle' }
      }
    ]
  };
}

function renderTag(params, api) {
  const i = params.dataIndex;
  const p = api.coord([XMAX, api.value(0)]);
  const x = p[0] + 2, y = p[1];
  return {
    type: 'group',
    children: [
      { type: 'polygon', shape: { points: [[x, y], [x + 6, y - 13], [x + 60, y - 13], [x + 60, y + 13], [x + 6, y + 13]] }, style: { fill: tagFills[i], stroke: '#000', lineWidth: 0.6 } },
      { type: 'text', x: x + 8, y: y, scaleX: LABEL_SX, style: { text: api.value(0).toFixed(4), fill: tagTexts[i], fontSize: 18, fontFamily: narrow, textAlign: 'left', textVerticalAlign: 'middle' } }
    ]
  };
}

function renderPriceLabel(params, api) {
  const v = api.value(0);
  const p = api.coord([XMAX, v]);
  return {
    type: 'text', x: p[0] + 10, y: p[1] + 1, scaleX: LABEL_SX,
    style: { text: v.toFixed(4), fill: '#222', fontSize: 18, fontFamily: narrow, textAlign: 'left', textVerticalAlign: 'middle' }
  };
}

function renderPeriodLabel(params, api) {
  const p = api.coord([api.value(0), YMIN]);
  return {
    type: 'text', x: p[0], y: p[1] + 37, scaleX: LABEL_SX,
    style: { text: periodLabels[params.dataIndex], fill: '#2a2a2a', fontSize: 19, fontFamily: narrow, textAlign: 'center', textVerticalAlign: 'middle' }
  };
}

const myChart = echarts.init(document.getElementById('chart'), null, { renderer: 'canvas' });

const option = {
  animation: false,
  backgroundColor: '#ffffff',
  graphic: { elements: gfx },
  grid: { left: 57, top: 173, width: 1717, height: 894, containLabel: false },
  xAxis: [
    {
      type: 'value', min: XMIN, max: XMAX, position: 'bottom',
      axisLine: { onZero: false, lineStyle: { color: '#444', width: 1.5 } },
      axisTick: { show: true, customValues: periodEdges, length: 46, lineStyle: { color: '#8c8c8c', width: 1 } },
      axisLabel: { show: false },
      splitLine: { show: true, lineStyle: { color: '#cdd0da', type: [3, 4], width: 1 } }
    },
    {
      type: 'value', min: XMIN, max: XMAX, position: 'bottom',
      axisLine: { show: false, onZero: false },
      axisTick: { show: true, customValues: yearTicks, length: 4, lineStyle: { color: '#333', width: 1 } },
      axisLabel: { show: false },
      splitLine: { show: false }
    }
  ],
  yAxis: [
    {
      type: 'value', min: YMIN, max: YMAX, position: 'right',
      axisLine: { show: true, onZero: false, lineStyle: { color: '#444', width: 1.5 } },
      axisTick: { show: true, customValues: priceTicks, length: 5, lineStyle: { color: '#222' } },
      axisLabel: { show: false },
      splitLine: { show: true, lineStyle: { color: '#c9ccd8', type: [2, 3], width: 1 } }
    },
    {
      type: 'value', min: YMIN, max: YMAX, position: 'right',
      axisLine: { show: false, onZero: false },
      axisTick: { show: true, customValues: priceMinorTicks, length: 4, lineStyle: { color: '#222' } },
      axisLabel: { show: false },
      splitLine: { show: false }
    }
  ],
  series: [
    {
      name: 'USDSEK', type: 'custom', z: 3, silent: true,
      renderItem: renderBar,
      encode: { x: 0, y: [1, 2, 3, 4] },
      data: barRows
    },
    {
      name: 'Retracement', type: 'custom', z: 4, silent: true, clip: false,
      renderItem: renderFib,
      encode: { y: 0 },
      data: fibLevels.map(v => [v])
    },
    {
      name: 'SMA 50', type: 'line', z: 5, silent: true, showSymbol: false, smooth: 0.25,
      lineStyle: { color: '#3fe83f', width: 1.4 },
      data: maYears.map((y, i) => [y, maValues[i]])
    },
    {
      name: 'Axis marks', type: 'scatter', z: 6, silent: true, clip: false,
      symbol: 'triangle', symbolSize: [7, 7], symbolRotate: -90, symbolOffset: [4, 0],
      itemStyle: { color: '#111' },
      data: priceTicks.map(v => [XMAX, v])
    },
    {
      name: 'Price labels', type: 'custom', z: 6, silent: true, clip: false,
      renderItem: renderPriceLabel,
      encode: { y: 0 },
      data: priceTicks.map(v => [v])
    },
    {
      name: 'Period labels', type: 'custom', z: 6, silent: true, clip: false,
      renderItem: renderPeriodLabel,
      encode: { x: 0 },
      data: periodCenters.map(v => [v])
    },
    {
      name: 'Last values', type: 'custom', z: 7, silent: true, clip: false,
      renderItem: renderTag,
      encode: { y: 0 },
      data: tagValues.map(v => [v])
    }
  ]
};

myChart.setOption(option);
</script>
</body>
</html>
